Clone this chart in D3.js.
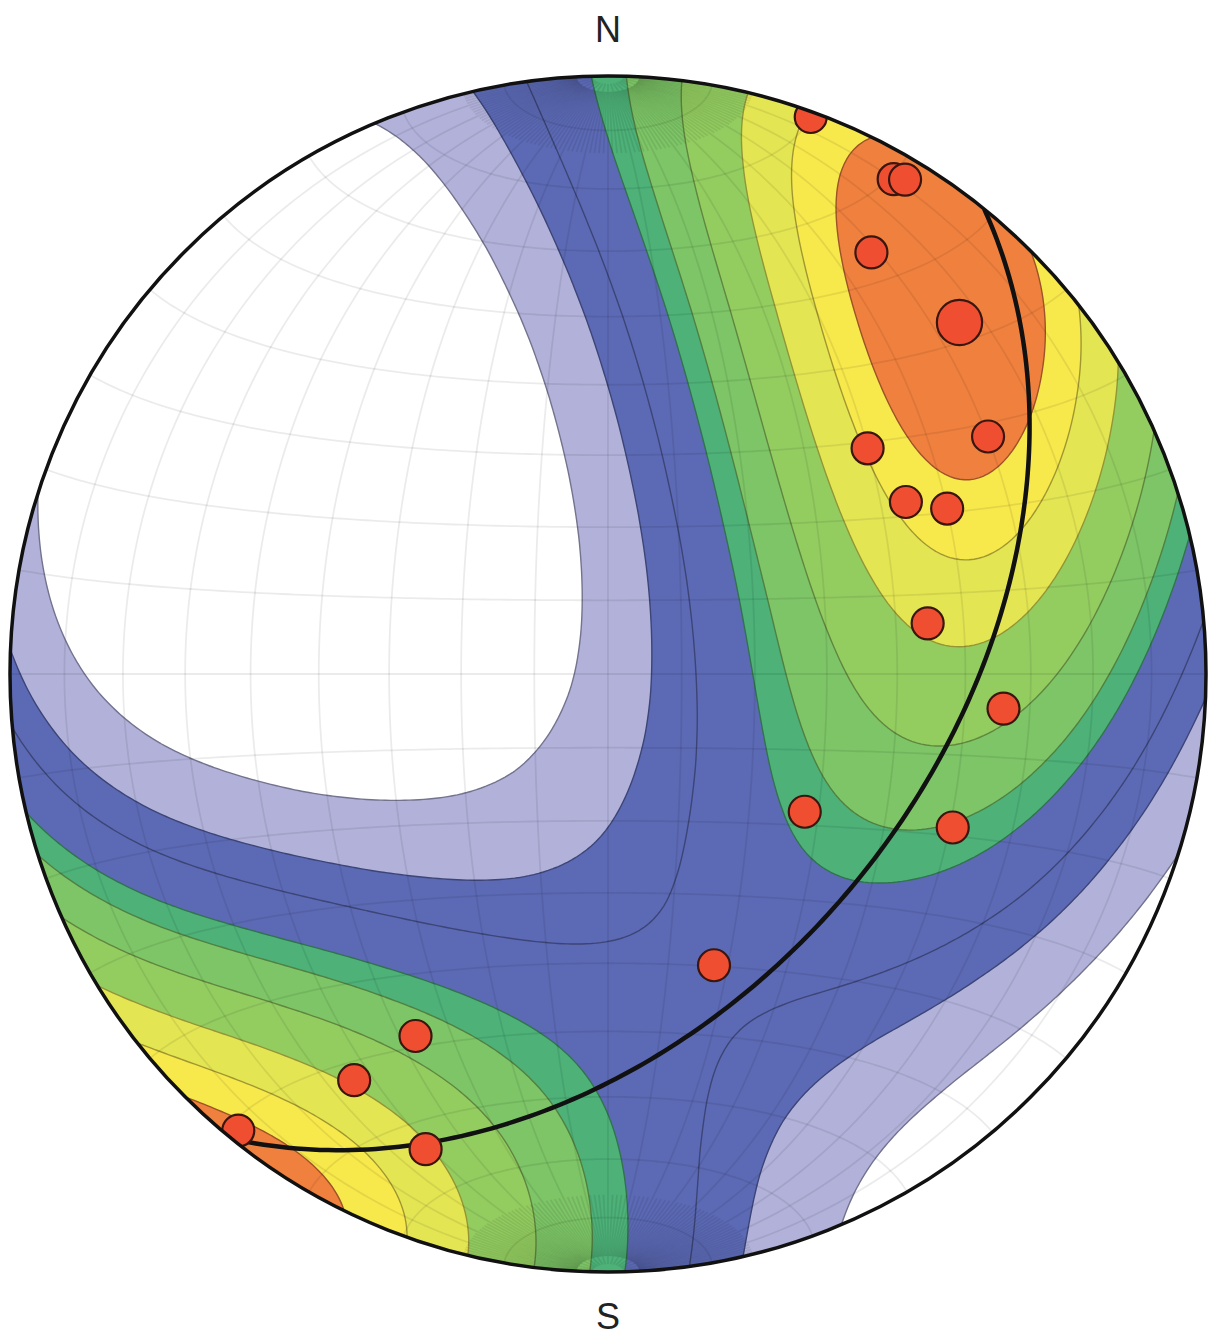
<!DOCTYPE html>
<html><head><meta charset="utf-8">
<script src="https://cdn.jsdelivr.net/npm/d3@7"></script>
<style>body{margin:0;background:#fff} svg{display:block}</style>
</head><body>
<svg id="net" width="1210" height="1339"></svg>
<script>
// poles (trend / plunge in degrees, lower hemisphere)
const poleTrend  = [20, 30, 31, 32, 45, 58, 49, 60, 64, 81, 95, 125, 114, 160, 208, 212, 219, 201];
const polePlunge = [1, 5, 4, 18, 18, 26, 42, 42, 37, 45, 34, 57, 37, 47, 32, 21, 2, 16];
const poleCount  = [1, 1, 1, 1, 2, 1, 1, 1, 1, 1, 1, 1, 1, 1, 1, 1, 1, 1];
// great circle
const planeDipDir = 129, planeDip = 45;
// contour levels as a fraction of the peak density
const contourLevels = [0.175, 0.27, 0.34, 0.44, 0.50, 0.60, 0.72, 0.82, 0.90];
const bandColors = ["#b1b1da", "#5c6ab5", "#5c6ab5", "#4db178", "#7dc566", "#93cd60", "#e3e553", "#f7e84b", "#f0803e"];
const kappa = 5;

const cx = 608, cy = 674, R = 598;
const rad = Math.PI / 180;
const svg = d3.select("#net");

const x = d3.scaleLinear().domain([-1, 1]).range([cx - R, cx + R]);
const y = d3.scaleLinear().domain([-1, 1]).range([cy + R, cy - R]);

function toVec(trend, plunge) {
  const t = trend * rad, p = plunge * rad;
  return [Math.cos(p) * Math.sin(t), Math.cos(p) * Math.cos(t), Math.sin(p)];
}
// equal-area (Schmidt), lower hemisphere
function project(v) {
  let [e, n, d] = v;
  if (d < 0) { e = -e; n = -n; d = -d; }
  const f = 1 / Math.sqrt(1 + d);
  return [e * f, n * f];
}
function unproject(u, w) {
  const r2 = u * u + w * w, f = Math.sqrt(Math.max(0, 2 - r2));
  return [u * f, w * f, 1 - r2];
}
const poleVecs = poleTrend.map((t, i) => toVec(t, polePlunge[i]));
// exponential (Fisher) kernel, axial
function density(v, k) {
  let s = 0;
  poleVecs.forEach((p, i) => {
    const c = Math.abs(p[0] * v[0] + p[1] * v[1] + p[2] * v[2]);
    s += poleCount[i] * Math.exp(k * (c - 1));
  });
  return s;
}

// density grid
const n = 260, ext = 1.04, step = 2 * ext / n;
const values = new Array(n * n);
for (let j = 0; j < n; j++) {
  for (let i = 0; i < n; i++) {
    const u = -ext + (i + 0.5) * step, w = ext - (j + 0.5) * step;
    values[i + j * n] = density(unproject(u, w), kappa);
  }
}
const peak = d3.max(values);

svg.append("clipPath").attr("id", "disk")
  .append("circle").attr("cx", cx).attr("cy", cy).attr("r", R);

const plot = svg.append("g").attr("clip-path", "url(#disk)");
plot.append("circle").attr("cx", cx).attr("cy", cy).attr("r", R).attr("fill", "#fff");

const contours = d3.contours().size([n, n]).thresholds(contourLevels.map(l => l * peak))(values);
const gridPath = d3.geoPath(d3.geoIdentity().scale(step * R).translate([cx - ext * R, cy - ext * R]));
plot.selectAll("path.band")
  .data(contours)
  .join("path")
  .attr("class", "band")
  .attr("d", gridPath)
  .attr("fill", (d, i) => bandColors[i])
  .attr("stroke", (d, i) => d3.color(bandColors[i]).darker(1.2))
  .attr("stroke-width", 1.4)
  .attr("stroke-linejoin", "round");

// net: great circles through N and S, small circles about the N-S axis
const line = d3.line().x(p => x(p[0])).y(p => y(p[1]));
function meridian(phi, s0, s1, ds) {
  return d3.range(s0, s1 + 0.001, ds).map(s => {
    const a = s * rad, b = phi * rad;
    return project([Math.sin(a) * Math.cos(b), Math.cos(a), Math.sin(a) * Math.sin(b)]);
  });
}
const netLines = [];
for (let phi = 10; phi < 180; phi += 10) netLines.push(meridian(phi, 1.5, 178.5, 1));
for (let alpha = 10; alpha < 180; alpha += 10) {
  netLines.push(d3.range(0, 180.01, 1).map(s => {
    const a = alpha * rad, b = s * rad;
    return project([Math.sin(a) * Math.cos(b), Math.cos(a), Math.sin(a) * Math.sin(b)]);
  }));
}
// fan of minor great circles close to the poles
for (let phi = 2; phi < 180; phi += 2) {
  if (phi % 10 === 0) continue;
  netLines.push(meridian(phi, 3, 14, 0.5));
  netLines.push(meridian(phi, 166, 177, 0.5));
}
plot.append("g").selectAll("path")
  .data(netLines)
  .join("path")
  .attr("d", line)
  .attr("fill", "none")
  .attr("stroke", "#000")
  .attr("stroke-opacity", 0.08)
  .attr("stroke-width", 1.8);

// plane
const sv = toVec(planeDipDir - 90, 0), dv = toVec(planeDipDir, planeDip);
const gc = d3.range(0, 180.01, 1).map(t => {
  const a = t * rad;
  return project([0, 1, 2].map(k => Math.cos(a) * sv[k] + Math.sin(a) * dv[k]));
});
plot.append("path").attr("d", line(gc)).attr("fill", "none")
  .attr("stroke", "#111").attr("stroke-width", 4.5);

// poles
const rScale = d3.scaleSqrt().domain([0, 1]).range([0, 16]);
plot.selectAll("circle.pole")
  .data(poleTrend.map((t, i) => ({ p: project(toVec(t, polePlunge[i])), c: poleCount[i] })))
  .join("circle")
  .attr("class", "pole")
  .attr("cx", d => x(d.p[0]))
  .attr("cy", d => y(d.p[1]))
  .attr("r", d => rScale(d.c))
  .attr("fill", "#ef4f30")
  .attr("stroke", "#3a1610")
  .attr("stroke-width", 2.2);

svg.append("circle").attr("cx", cx).attr("cy", cy).attr("r", R)
  .attr("fill", "none").attr("stroke", "#111").attr("stroke-width", 3.5);

svg.append("text").attr("x", cx).attr("y", 42).attr("text-anchor", "middle")
  .style("font", "36px 'Liberation Sans', Arial, sans-serif").attr("fill", "#222").text("N");
svg.append("text").attr("x", cx).attr("y", 1329).attr("text-anchor", "middle")
  .style("font", "36px 'Liberation Sans', Arial, sans-serif").attr("fill", "#222").text("S");
</script>
</body></html>
